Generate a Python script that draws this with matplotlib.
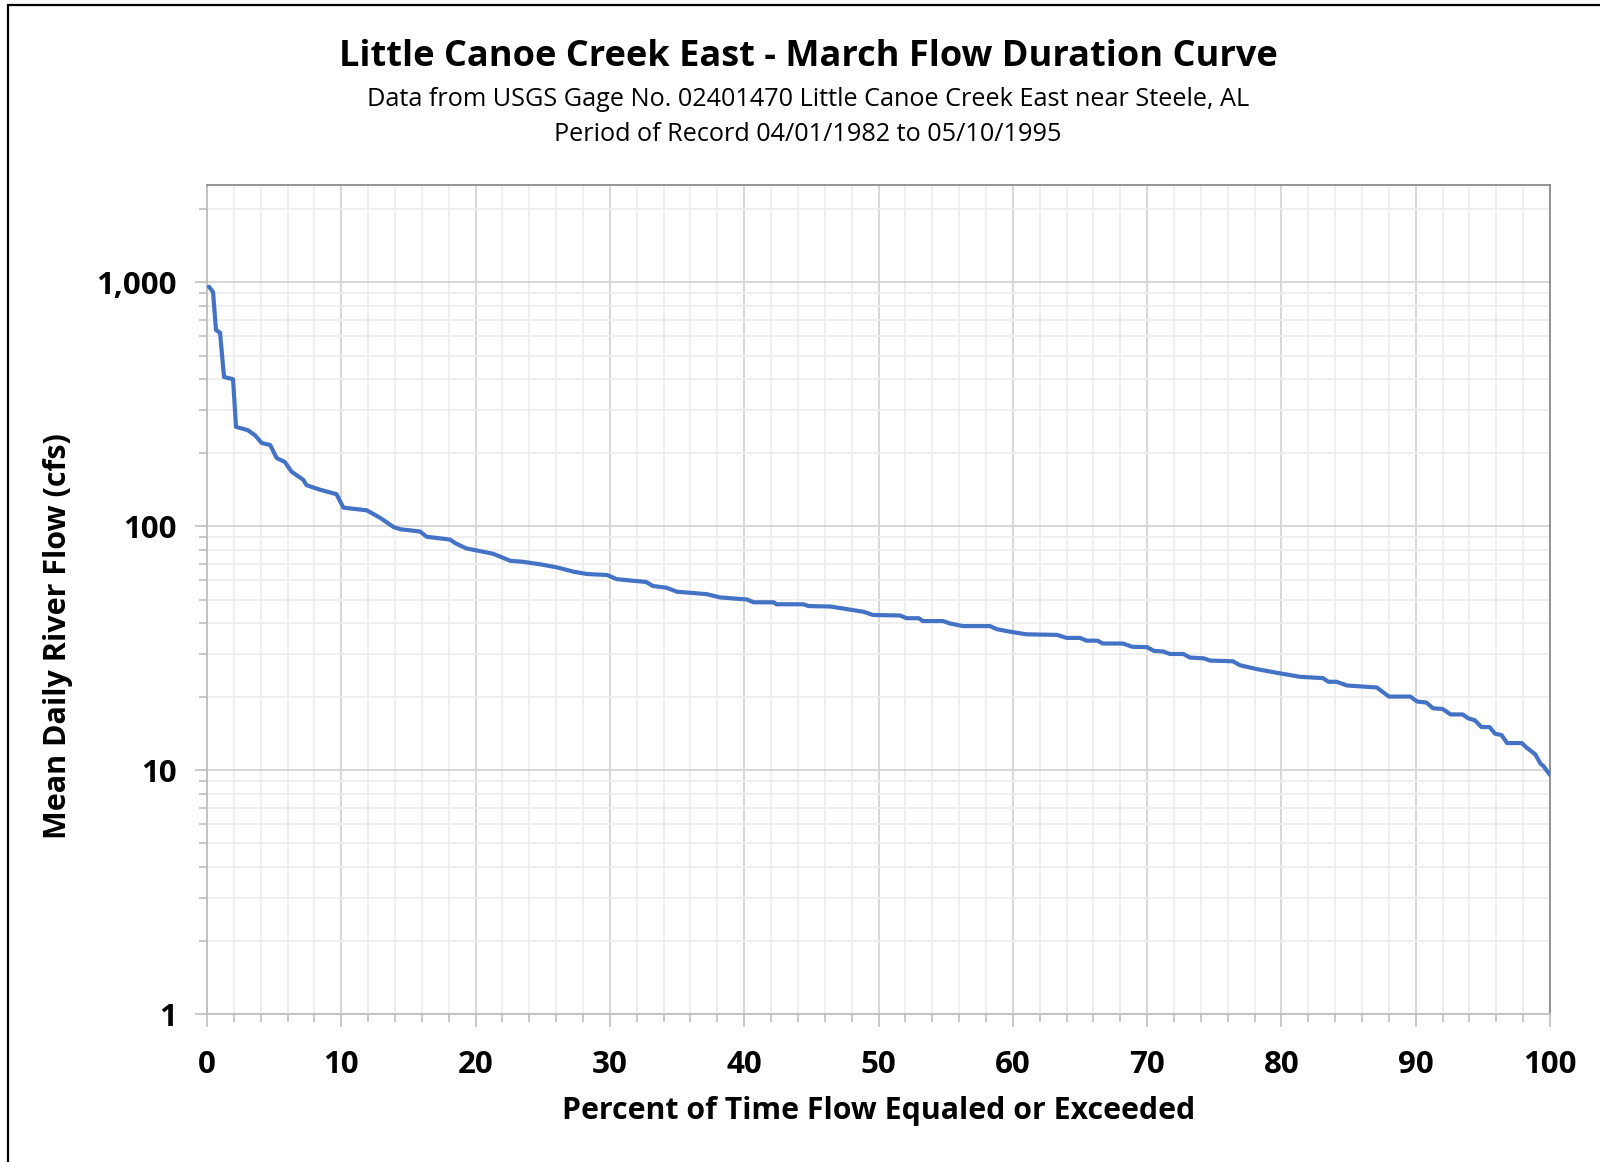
import matplotlib as mplt
mplt.use("Agg")
import matplotlib.pyplot as plt
from matplotlib.patches import Rectangle
from matplotlib.ticker import FixedLocator, FuncFormatter, NullFormatter

# Flow duration curve (percent exceeded, flow in cfs)
PCT = [0.15, 0.45, 0.67, 0.97, 1.27, 1.94, 2.16, 3.05, 3.6, 4.07, 4.7, 5.19, 5.8,
       6.3, 7.15, 7.42, 8.4, 9.65, 10.15, 11.9, 12.9, 13.9, 14.4, 15.86, 16.36,
       18.1, 18.5, 19.3, 20.3, 21.3, 22.6, 23.5, 24.8, 26.0, 27.3, 28.3, 29.8,
       30.5, 31.7, 32.7, 33.2, 34.2, 35.0, 37.2, 38.2, 40.2, 40.7, 42.2, 42.4,
       44.4, 44.8, 46.4, 47.6, 48.9, 49.6, 51.6, 52.1, 53.0, 53.3, 54.8, 55.3,
       56.3, 58.3, 58.8, 59.8, 61.0, 63.3, 64.0, 65.0, 65.5, 66.3, 66.7, 68.2,
       68.9, 70.0, 70.5, 71.2, 71.7, 72.7, 73.2, 74.2, 74.7, 76.4, 76.9, 78.2,
       79.9, 81.4, 83.1, 83.5, 84.1, 84.9, 87.1, 88.0, 89.6, 90.1, 90.8, 91.3,
       92.0, 92.6, 93.5, 93.9, 94.4, 94.9, 95.5, 95.9, 96.4, 96.8, 97.9, 98.3,
       98.9, 99.3, 99.5, 100.0]
FLOW = [957, 910, 636, 620, 408, 400, 255, 247, 235, 219, 215, 190, 183,
        167, 155, 147, 141, 135, 119, 116, 108, 99, 97, 95, 90.4,
        88, 85, 81, 79, 77, 72, 71.4, 69.7, 67.8, 65, 63.6, 63,
        60.6, 59.7, 59, 56.8, 55.9, 53.8, 52.6, 51, 50, 48.7, 48.7, 47.8,
        47.8, 47, 46.8, 45.7, 44.5, 43.2, 43, 41.9, 41.9, 40.8, 40.8, 39.9,
        38.9, 38.9, 37.8, 36.9, 36.0, 35.8, 34.8, 34.8, 33.9, 33.9, 33.0, 33.0,
        32.0, 31.9, 30.8, 30.6, 29.9, 29.9, 28.9, 28.7, 28.1, 27.9, 26.9, 25.9,
        24.9, 24.1, 23.8, 23.0, 23.0, 22.2, 21.8, 20.0, 20.0, 19.1, 18.9, 17.9,
        17.8, 16.9, 16.9, 16.3, 16.0, 15.0, 15.0, 14.1, 13.9, 12.9, 12.9, 12.3,
        11.6, 10.6, 10.4, 9.55]

X_MAJOR = list(range(0, 101, 10))
Y_MAJOR = [1, 10, 100, 1000]

TITLE = 'Little Canoe Creek East - March Flow Duration Curve'
SUBTITLE_1 = 'Data from USGS Gage No. 02401470 Little Canoe Creek East near Steele, AL'
SUBTITLE_2 = 'Period of Record 04/01/1982 to 05/10/1995'
X_LABEL = 'Percent of Time Flow Equaled or Exceeded'
Y_LABEL = 'Mean Daily River Flow (cfs)'

plt.rcParams['font.family'] = ['Open Sans', 'DejaVu Sans']

fig = plt.figure(figsize=(16, 11.62), dpi=100)
ax = fig.add_axes([207 / 1600, 1 - 1014 / 1162, (1550 - 207) / 1600, (1014 - 185) / 1162])

ax.plot(PCT, FLOW, color='#4472C4', lw=3.0, solid_joinstyle='round',
        solid_capstyle='round', zorder=3)

ax.set_yscale('log')
ax.set_xlim(0, 100)
ax.set_ylim(1, 2500)

ax.xaxis.set_major_locator(FixedLocator(X_MAJOR))
ax.xaxis.set_minor_locator(FixedLocator([v for v in range(0, 101, 2) if v % 10]))
y_minor = [m * 10 ** k for k in range(0, 4) for m in range(2, 10) if m * 10 ** k < 2500]
ax.yaxis.set_major_locator(FixedLocator(Y_MAJOR))
ax.yaxis.set_minor_locator(FixedLocator(y_minor))
ax.yaxis.set_major_formatter(FuncFormatter(lambda v, _: f'{v:,.0f}'))
ax.yaxis.set_minor_formatter(NullFormatter())

ax.grid(which='major', color='#d4d4d4', lw=1.3)
ax.grid(which='minor', color='#eeeeee', lw=1.3)
ax.set_axisbelow(True)

ax.tick_params(which='major', length=9, width=1.2, color='#bfbfbf', direction='out',
               labelsize=22.5)
ax.tick_params(axis='x', which='major', pad=17)
ax.tick_params(axis='y', which='major', pad=13)
ax.tick_params(which='minor', length=6, width=1.2, color='#bfbfbf', direction='out')
for lab in ax.get_xticklabels() + ax.get_yticklabels():
    lab.set_fontweight('bold')

for side in ('left', 'bottom'):
    ax.spines[side].set_color('#bfbfbf')
    ax.spines[side].set_linewidth(1.3)
for side in ('top', 'right'):
    ax.spines[side].set_color('#8c8c8c')
    ax.spines[side].set_linewidth(1.3)

fig.text(0.505, 0.951, TITLE, ha='center', va='center', fontsize=26, fontweight='bold')
fig.text(0.505, 0.9148, SUBTITLE_1, ha='center', va='center', fontsize=18.2)
fig.text(0.505, 0.8840, SUBTITLE_2, ha='center', va='center', fontsize=18.2)
fig.text(878.5 / 1600, 1 - 1111 / 1162, X_LABEL, ha='center', va='center',
         fontsize=21.8, fontweight='bold')
fig.text(58 / 1600, 1 - 636 / 1162, Y_LABEL, ha='center', va='center', rotation=90,
         fontsize=22, fontweight='bold')

# outer chart border: only top and left edges fall inside the image
fig.patches.append(Rectangle((8 / 1600, -0.1), 1.2, 1.1 - 5 / 1162, transform=fig.transFigure,
                             fill=False, edgecolor='black', lw=1.6, zorder=10))

plt.savefig('out.png', dpi=100)
